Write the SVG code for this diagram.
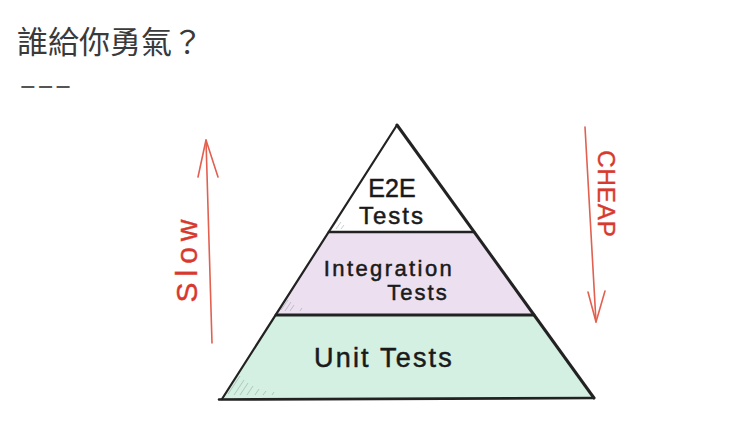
<svg xmlns="http://www.w3.org/2000/svg" width="735" height="421" viewBox="0 0 735 421">
  <style>
    .title { font-family: "Noto Sans CJK TC", "Noto Sans CJK SC", sans-serif; font-size: 31px; fill: #3a3a3a; }
    .dash { font-family: "Liberation Sans", sans-serif; font-size: 24px; fill: #555; }
    .lbl { font-family: "Liberation Sans", "DejaVu Sans", sans-serif; fill: #1a1a1a; stroke: #1a1a1a; stroke-width: 0.5; text-anchor: middle; }
    .red { font-family: "Liberation Sans", "DejaVu Sans", sans-serif; fill: #d8392e; stroke: #d8392e; stroke-width: 0.4; text-anchor: middle; }
    .edge { stroke: #222; fill: none; stroke-linecap: round; }
    .hatch { stroke: #8a9a92; stroke-width: 0.8; opacity: 0.6; }
    .arrow { stroke: #e2604f; stroke-width: 1.6; fill: none; stroke-linecap: round; stroke-linejoin: round; }
  </style>
  <rect width="735" height="421" fill="#ffffff"/>

  <g id="title">
    <text class="title" x="17" y="53">誰給你勇氣？</text>
    <text class="dash" x="19" y="93" textLength="53" lengthAdjust="spacingAndGlyphs">---</text>
  </g>

  <g id="tier-e2e">
    <polygon points="397,125 329,232 474,232" fill="#ffffff"/>
    <g class="hatch">
      <line x1="332" y1="228" x2="338" y2="220"/>
      <line x1="336" y1="229" x2="341" y2="222"/>
      <line x1="341" y1="229" x2="344" y2="225"/>
    </g>
    <text class="lbl" x="392" y="197" font-size="25">E2E</text>
    <text class="lbl" x="392" y="224" font-size="24" letter-spacing="2">Tests</text>
  </g>

  <g id="tier-integration">
    <polygon points="329,232 474,232 534,315 276,315" fill="#ecdff0"/>
    <g class="hatch">
      <line x1="281" y1="310" x2="288" y2="300"/>
      <line x1="285" y1="311" x2="291" y2="302"/>
      <line x1="290" y1="311" x2="294" y2="305"/>
      <line x1="300" y1="311" x2="302" y2="308"/>
    </g>
    <text class="lbl" x="389" y="276" font-size="22" letter-spacing="2.4">Integration</text>
    <text class="lbl" x="418" y="300" font-size="22" letter-spacing="2">Tests</text>
  </g>

  <g id="tier-unit">
    <polygon points="276,315 534,315 594,398 222,399" fill="#d4f0e2"/>
    <g class="hatch">
      <line x1="228" y1="394" x2="240" y2="376"/>
      <line x1="234" y1="395" x2="244" y2="380"/>
      <line x1="240" y1="395" x2="248" y2="383"/>
      <line x1="247" y1="395" x2="253" y2="386"/>
      <line x1="255" y1="395" x2="259" y2="389"/>
      <line x1="263" y1="395" x2="266" y2="391"/>
      <line x1="272" y1="395" x2="274" y2="392"/>
    </g>
    <text class="lbl" x="384" y="367" font-size="27" letter-spacing="2.2">Unit Tests</text>
  </g>

  <g id="pyramid-outline">
    <line class="edge" x1="397" y1="125" x2="222" y2="399" stroke-width="2.2"/>
    <line class="edge" x1="397" y1="125" x2="594" y2="398" stroke-width="3"/>
    <line class="edge" x1="329" y1="232" x2="474" y2="232" stroke-width="2.6" stroke="#333"/>
    <line class="edge" x1="276" y1="315" x2="534" y2="315" stroke-width="2.8" stroke="#333"/>
    <line class="edge" x1="219" y1="399.5" x2="594" y2="398" stroke-width="2.6" stroke="#333"/>
  </g>

  <g id="connectors">
    <g id="slow-arrow">
      <path class="arrow" d="M212,343 L206,140"/>
      <path class="arrow" d="M198,177 L206,140 L218,177"/>
    </g>
    <g id="cheap-arrow">
      <path class="arrow" d="M585,127 L596,322"/>
      <path class="arrow" d="M588,292 L596,322 L605,291"/>
    </g>
  </g>

  <g id="label-slow">
    <text class="red" transform="translate(197,258) rotate(-90)" font-size="30" letter-spacing="6">Slow</text>
  </g>
  <g id="label-cheap">
    <text class="red" transform="translate(598,194) rotate(90)" font-size="24" letter-spacing="1">CHEAP</text>
  </g>
</svg>
